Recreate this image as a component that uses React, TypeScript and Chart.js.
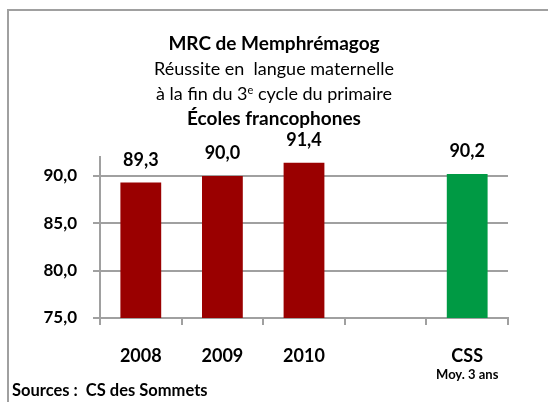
import React, { useEffect, useRef } from "react";
import { Chart, registerables } from "chart.js";

Chart.register(...registerables);

const categories = ["2008", "2009", "2010", "", "CSS"];
const subLabels = ["", "", "", "", "Moy. 3 ans"];
const values: (number | null)[] = [89.3, 90.0, 91.4, null, 90.2];
const barColors = ["#9A0000", "#9A0000", "#9A0000", "#9A0000", "#009A44"];
const yTicks = [75, 80, 85, 90];
const yMin = 75;
const yMax = 92;

type Part = { t: string; sup?: boolean };
const titleLines: { parts: Part[]; bold: boolean }[] = [
  { parts: [{ t: "MRC de Memphrémagog" }], bold: true },
  { parts: [{ t: "Réussite en  langue maternelle" }], bold: false },
  { parts: [{ t: "à la fin du 3" }, { t: "e", sup: true }, { t: " cycle du primaire" }], bold: false },
  { parts: [{ t: "Écoles francophones" }], bold: true },
];
const sourceText = "Sources :  CS des Sommets";

const FONT = "Lato, 'Open Sans', sans-serif";
const GRAY = "#a0a0a0";

const fmt = (v: number) => v.toFixed(1).replace(".", ",");

const overlayPlugin = {
  id: "overlay",
  afterDraw(chart: any) {
    const ctx = chart.ctx as CanvasRenderingContext2D;
    ctx.save();
    ctx.fillStyle = "#000";
    // Title
    const cx = chart.width / 2;
    titleLines.forEach((line, li) => {
      const y = 49.5 + li * 25;
      const size = line.bold ? 19 : 18;
      const mainFont = `${line.bold ? "bold " : ""}${size}px ${FONT}`;
      const supFont = `${line.bold ? "bold " : ""}${Math.round(size * 0.62)}px ${FONT}`;
      let total = 0;
      const widths = line.parts.map((p) => {
        ctx.font = p.sup ? supFont : mainFont;
        const w = ctx.measureText(p.t).width;
        total += w;
        return w;
      });
      let x = cx - total / 2;
      ctx.textAlign = "left";
      ctx.textBaseline = "alphabetic";
      line.parts.forEach((p, i) => {
        ctx.font = p.sup ? supFont : mainFont;
        ctx.fillText(p.t, x, p.sup ? y - 6 : y);
        x += widths[i];
      });
    });
    // Value labels
    const meta = chart.getDatasetMeta(0);
    ctx.font = `bold 18px ${FONT}`;
    ctx.textAlign = "center";
    ctx.textBaseline = "alphabetic";
    meta.data.forEach((bar: any, i: number) => {
      const v = values[i];
      if (v == null) return;
      ctx.fillText(fmt(v), bar.x, bar.y - 17);
    });
    // Sub labels
    const xs = chart.scales.x;
    ctx.font = `bold 13px ${FONT}`;
    ctx.textBaseline = "middle";
    subLabels.forEach((s, i) => {
      if (!s) return;
      ctx.fillText(s, xs.getPixelForValue(i), 375);
    });
    // Source
    ctx.font = `bold 16.5px ${FONT}`;
    ctx.textAlign = "left";
    ctx.fillText(sourceText, 12, 391);
    ctx.restore();
  },
};

export default function App() {
  const ref = useRef<HTMLCanvasElement>(null);
  useEffect(() => {
    if (!ref.current) return;
    const chart = new Chart(ref.current, {
      type: "bar",
      data: {
        labels: categories,
        datasets: [
          {
            data: values as any,
            backgroundColor: barColors,
            borderWidth: 0,
            barPercentage: 0.5,
            categoryPercentage: 1,
          },
        ],
      },
      options: {
        responsive: false,
        animation: false,
        devicePixelRatio: 1,
        layout: { padding: { top: 157, right: 40, left: 0, bottom: 0 } },
        plugins: {
          legend: { display: false },
          title: { display: false },
          tooltip: { enabled: false },
        },
        scales: {
          x: {
            offset: true,
            grid: {
              offset: true,
              drawOnChartArea: false,
              drawTicks: true,
              tickLength: 7,
              color: GRAY,
              lineWidth: 2,
            },
            border: { display: true, color: GRAY, width: 2 },
            ticks: {
              color: "#000",
              font: { family: FONT, size: 18, weight: "bold" },
              padding: 20,
              maxRotation: 0,
            },
            afterFit: (s: any) => {
              s.height = 84;
            },
          },
          y: {
            min: yMin,
            max: yMax,
            afterBuildTicks: (s: any) => {
              s.ticks = yTicks.map((v) => ({ value: v }));
            },
            grid: {
              drawTicks: true,
              tickLength: 7,
              color: GRAY,
              lineWidth: 2,
            },
            border: { display: true, color: GRAY, width: 2 },
            ticks: {
              color: "#000",
              font: { family: FONT, size: 17, weight: "bold" },
              padding: 16,
              callback: (v: any) => fmt(Number(v)),
            },
            afterFit: (s: any) => {
              s.width = 100;
            },
          },
        },
      },
      plugins: [overlayPlugin],
    });
    return () => chart.destroy();
  }, []);

  return (
    <div
      style={{
        position: "fixed",
        left: 0,
        top: 0,
        width: 548,
        height: 402,
        overflow: "hidden",
        background: "#fff",
      }}
    >
      <div
        style={{
          position: "absolute",
          left: 7,
          top: 9,
          width: 700,
          height: 600,
          border: `2px solid ${GRAY}`,
        }}
      />
      <canvas
        ref={ref}
        width={548}
        height={402}
        style={{ position: "absolute", left: 0, top: 0, width: 548, height: 402 }}
      />
    </div>
  );
}
